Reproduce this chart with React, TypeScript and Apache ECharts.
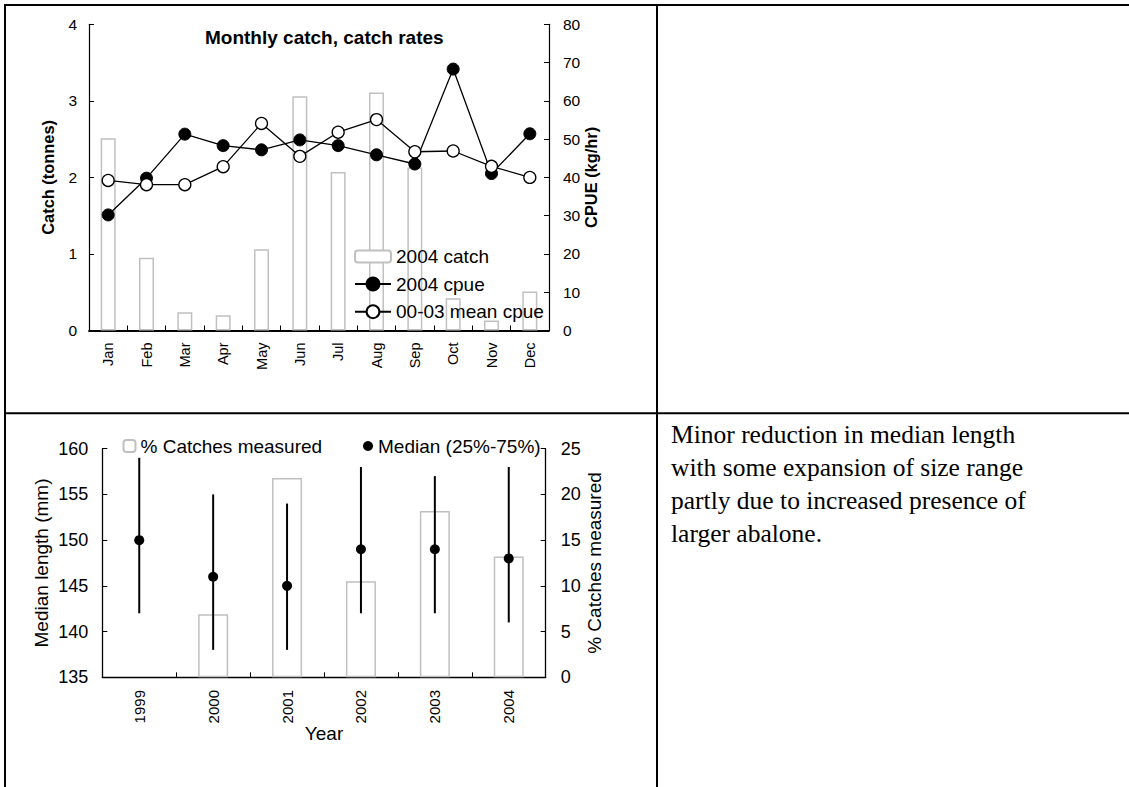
import React, { useEffect, useRef } from 'react';
import * as echarts from 'echarts';

// ---- Top chart data ----
const months = ['Jan', 'Feb', 'Mar', 'Apr', 'May', 'Jun', 'Jul', 'Aug', 'Sep', 'Oct', 'Nov', 'Dec'];
const catch2004 = [2.51, 0.95, 0.24, 0.2, 1.06, 3.06, 2.07, 3.11, 2.13, 0.42, 0.13, 0.51];
const cpue2004 = [30.2, 39.8, 51.3, 48.3, 47.2, 49.8, 48.3, 45.9, 43.5, 68.3, 41.0, 51.4];
const meanCpue0003 = [39.2, 38.1, 38.1, 42.8, 54.1, 45.5, 51.8, 55.1, 46.7, 46.9, 42.9, 40.0];

// ---- Bottom chart data ----
const years = ['1999', '2000', '2001', '2002', '2003', '2004'];
const pctMeasured = [null, 6.9, 21.8, 10.5, 18.2, 13.2];
const medianLength = [150, 146, 145, 149, 149, 148];
const q25Length = [142, 138, 138, 142, 142, 141];
const q75Length = [159, 155, 154, 158, 157, 158];

// ---- Note text ----
const noteLines = [
  'Minor reduction in median length',
  'with some expansion of size range',
  'partly due to increased presence of',
  'larger abalone.',
];

const FONT = '"Liberation Sans", Arial, sans-serif';
const SERIF = '"Liberation Serif", "Times New Roman", serif';
const BAR_BORDER = '#c0c0c0';

export default function App() {
  const ref = useRef<HTMLDivElement>(null);

  useEffect(() => {
    if (!ref.current) return;
    const chart = echarts.init(ref.current, null, { renderer: 'svg' });

    const tick = { show: true, inside: true, length: 5, lineStyle: { color: '#000', width: 1 } };
    const txt = (size: number, extra: any = {}) => ({ color: '#000', fontFamily: FONT, fontSize: size, ...extra });

    const option: any = {
      animation: false,
      backgroundColor: '#fff',
      title: {
        text: 'Monthly catch, catch rates',
        left: 205,
        top: 27.5,
        padding: 0,
        textStyle: txt(19, { fontWeight: 'bold' }),
      },
      grid: [
        { left: 89, top: 24.3, width: 460, height: 306.2, containLabel: false, outerBoundsMode: 'none' },
        { left: 102.3, top: 448.7, width: 443.4, height: 228.6, containLabel: false, outerBoundsMode: 'none' },
      ],
      xAxis: [
        {
          type: 'category',
          gridIndex: 0,
          data: months,
          axisLine: { show: true, lineStyle: { color: '#000', width: 1.8 } },
          axisTick: { ...tick, interval: 0 },
          axisLabel: { ...txt(14.5), rotate: 90, margin: 12, interval: 0 },
          splitLine: { show: false },
        },
        {
          type: 'category',
          gridIndex: 1,
          data: years,
          name: 'Year',
          nameLocation: 'middle',
          nameGap: 47,
          nameMoveOverlap: false,
          nameTextStyle: txt(19),
          axisLine: { show: true, lineStyle: { color: '#000', width: 1.3 } },
          axisTick: { ...tick, interval: 0 },
          axisLabel: { ...txt(15), rotate: 90, margin: 12.7, interval: 0 },
          splitLine: { show: false },
        },
      ],
      yAxis: [
        {
          type: 'value',
          gridIndex: 0,
          position: 'left',
          min: 0,
          max: 4,
          interval: 1,
          name: 'Catch (tonnes)',
          nameLocation: 'middle',
          nameGap: 32.8,
          nameMoveOverlap: false,
          nameTextStyle: txt(16.4, { fontWeight: 'bold' }),
          axisLine: { show: true, lineStyle: { color: '#000', width: 1.2 } },
          axisTick: tick,
          axisLabel: { ...txt(15.5), margin: 12 },
          splitLine: { show: false },
        },
        {
          type: 'value',
          gridIndex: 0,
          position: 'right',
          min: 0,
          max: 80,
          interval: 10,
          name: 'CPUE (kg/hr)',
          nameLocation: 'middle',
          nameGap: 34,
          nameMoveOverlap: false,
          nameTextStyle: txt(16.4, { fontWeight: 'bold' }),
          axisLine: { show: true, lineStyle: { color: '#000', width: 1.2 } },
          axisTick: tick,
          axisLabel: { ...txt(15.5), margin: 14 },
          splitLine: { show: false },
        },
        {
          type: 'value',
          gridIndex: 1,
          position: 'left',
          min: 135,
          max: 160,
          interval: 5,
          name: 'Median length (mm)',
          nameLocation: 'middle',
          nameGap: 51,
          nameMoveOverlap: false,
          nameTextStyle: txt(19),
          axisLine: { show: true, lineStyle: { color: '#000', width: 1.3 } },
          axisTick: tick,
          axisLabel: { ...txt(18), margin: 14 },
          splitLine: { show: false },
        },
        {
          type: 'value',
          gridIndex: 1,
          position: 'right',
          min: 0,
          max: 25,
          interval: 5,
          name: '% Catches measured',
          nameLocation: 'middle',
          nameGap: 39,
          nameMoveOverlap: false,
          nameTextStyle: txt(19),
          axisLine: { show: true, lineStyle: { color: '#000', width: 1.3 } },
          axisTick: tick,
          axisLabel: { ...txt(18), margin: 15 },
          splitLine: { show: false },
        },
      ],
      legend: [
        {
          data: ['2004 catch'],
          left: 354,
          top: 247,
          padding: 0,
          itemWidth: 36,
          itemHeight: 12,
          selectedMode: false,
          textStyle: txt(19),
        },
        {
          data: ['2004 cpue', '00-03 mean cpue'],
          orient: 'vertical',
          left: 354,
          top: 274.5,
          padding: 0,
          itemWidth: 36,
          itemHeight: 16,
          itemGap: 8.7,
          selectedMode: false,
          textStyle: txt(19),
        },
        {
          data: ['% Catches measured'],
          left: 122.5,
          top: 436.5,
          padding: 0,
          itemWidth: 12,
          itemHeight: 12,
          selectedMode: false,
          textStyle: txt(19),
        },
        {
          data: ['Median (25%-75%)'],
          left: 363,
          top: 436.5,
          padding: 0,
          itemWidth: 10,
          itemHeight: 10,
          selectedMode: false,
          textStyle: txt(19),
        },
      ],
      series: [
        {
          type: 'bar',
          name: '2004 catch',
          xAxisIndex: 0,
          yAxisIndex: 0,
          data: catch2004,
          barWidth: 15,
          itemStyle: { color: '#fff', borderColor: BAR_BORDER, borderWidth: 1.5 },
          z: 1,
        },
        {
          type: 'line',
          name: '2004 cpue',
          xAxisIndex: 0,
          yAxisIndex: 1,
          data: cpue2004,
          symbol: 'circle',
          symbolSize: 12,
          showSymbol: true,
          lineStyle: { color: '#000', width: 1.3 },
          itemStyle: { color: '#000', borderColor: '#000', borderWidth: 1 },
          z: 3,
        },
        {
          type: 'line',
          name: '00-03 mean cpue',
          xAxisIndex: 0,
          yAxisIndex: 1,
          data: meanCpue0003,
          symbol: 'circle',
          symbolSize: 12,
          showSymbol: true,
          lineStyle: { color: '#000', width: 1.3 },
          itemStyle: { color: '#fff', borderColor: '#000', borderWidth: 1.3 },
          z: 4,
        },
        {
          type: 'bar',
          name: '% Catches measured',
          xAxisIndex: 1,
          yAxisIndex: 3,
          data: pctMeasured,
          barWidth: 30,
          itemStyle: { color: '#fff', borderColor: BAR_BORDER, borderWidth: 1.5 },
          z: 1,
        },
        {
          type: 'custom',
          name: 'IQR',
          xAxisIndex: 1,
          yAxisIndex: 2,
          data: years.map((_, i) => [i, q25Length[i], q75Length[i]]),
          encode: { x: 0, y: [1, 2] },
          renderItem: (params: any, api: any) => {
            const lo = api.coord([api.value(0), api.value(1)]);
            const hi = api.coord([api.value(0), api.value(2)]);
            return {
              type: 'line',
              shape: { x1: lo[0], y1: lo[1], x2: hi[0], y2: hi[1] },
              style: { stroke: '#000', lineWidth: 2 },
            };
          },
          z: 3,
        },
        {
          type: 'scatter',
          name: 'Median (25%-75%)',
          xAxisIndex: 1,
          yAxisIndex: 2,
          data: medianLength,
          symbol: 'circle',
          symbolSize: 10,
          itemStyle: { color: '#000', opacity: 1 },
          z: 4,
        },
      ],
      graphic: [
        { type: 'line', silent: true, shape: { x1: 4, y1: 5, x2: 1129, y2: 5 }, style: { stroke: '#000', lineWidth: 2 } },
        { type: 'line', silent: true, shape: { x1: 5, y1: 4, x2: 5, y2: 787 }, style: { stroke: '#000', lineWidth: 2 } },
        { type: 'line', silent: true, shape: { x1: 657, y1: 4, x2: 657, y2: 787 }, style: { stroke: '#000', lineWidth: 2 } },
        { type: 'line', silent: true, shape: { x1: 4, y1: 413.3, x2: 1129, y2: 413.3 }, style: { stroke: '#000', lineWidth: 2 } },
        {
          type: 'text',
          x: 671,
          y: 418,
          style: {
            text: noteLines.join('\n'),
            fill: '#000',
            fontFamily: SERIF,
            fontSize: 25.5,
            lineHeight: 33.1,
            align: 'left',
            verticalAlign: 'top',
          },
        },
      ],
    };

    chart.setOption(option);
    return () => chart.dispose();
  }, []);

  return (
    <div
      ref={ref}
      style={{ position: 'absolute', left: 0, top: 0, width: 1129, height: 787 }}
    />
  );
}
